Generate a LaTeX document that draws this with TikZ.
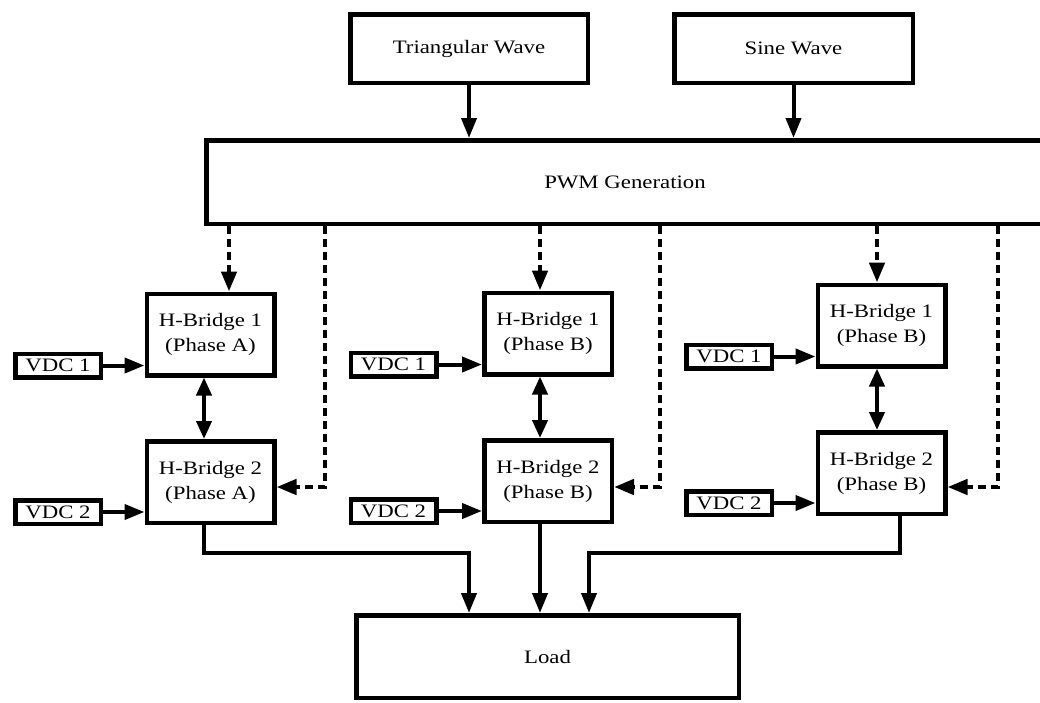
\documentclass[tikz,border=0pt]{standalone}
\usepackage{fontspec}
\setmainfont{Liberation Serif}[FakeStretch=1.2]
\usetikzlibrary{arrows.meta}

\begin{document}
\begin{tikzpicture}[x=1pt, y=-1pt, font=\fontsize{19}{25}\selectfont]
        \tikzstyle{box} = [rectangle, draw=black, line width=4.5pt, inner sep=0pt, align=center]
        \tikzstyle{hbox} = [box, minimum width=127.5pt, minimum height=81.5pt]
        \tikzstyle{vbox} = [box, minimum width=85.5pt, minimum height=23.5pt]
        \tikzstyle{arr} = [line width=4pt, -{Triangle[length=20pt, width=15pt]}]
        \tikzstyle{darr} = [arr, line width=4.5pt, dash pattern=on 8pt off 5pt]
        \tikzstyle{dbl} = [line width=4pt, {Triangle[length=18pt, width=15pt]}-{Triangle[length=18pt, width=15pt]}]

        \useasboundingbox (0,0) rectangle (1040,702);
        \clip (0,0) rectangle (1040,702);

        \node[box, minimum width=237.5pt, minimum height=68.5pt] (tri) at (469,48.5) {Triangular Wave};
        \node[box, minimum width=238.5pt, minimum height=68.5pt] (sine) at (793.5,48.5) {Sine Wave};
        \node[box, minimum width=837.5pt, minimum height=83.5pt] (pwm) at (625,182) {PWM Generation};
        \node[box, minimum width=382.5pt, minimum height=82.5pt] (load) at (547.5,656.5) {Load};

        \draw[arr] (tri.south) -- (tri.south |- pwm.north);
        \draw[arr] (sine.south) -- (sine.south |- pwm.north);

        \foreach \n/\hx/\hy/\vx/\ph/\da/\db/\dd in {a/210.5/334.5/58/A/229/325/204, b/548/333.5/393.5/B/540/660/540, c/881.5/325.5/729/B/877/998/877}{
            \node[hbox] (hb1\n) at (\hx,\hy) {H-Bridge 1\\(Phase \ph)};
            \node[hbox] (hb2\n) at (\hx,\hy+147.5) {H-Bridge 2\\(Phase \ph)};
            \node[vbox] (vdc1\n) at (\vx,\hy+31) {VDC 1};
            \node[vbox] (vdc2\n) at (\vx,\hy+177.5) {VDC 2};
            \coordinate (da\n) at (\da,0);
            \coordinate (db\n) at (\db,487);
            \coordinate (dd\n) at (\dd,0);

            \draw[arr] (vdc1\n.east) -- (vdc1\n.east -| hb1\n.west);
            \draw[arr] (vdc2\n.east) -- (vdc2\n.east -| hb2\n.west);
            \draw[darr] (pwm.south -| da\n) -- (hb1\n.north -| da\n);
            \draw[darr] (pwm.south -| db\n) |- (hb2\n.east |- db\n);
            \draw[dbl] (hb1\n.south -| dd\n) -- (hb2\n.north -| dd\n);
        }

        % outputs to the load
        \coordinate (la) at (469,553);
        \coordinate (lc) at (589,553);
        \coordinate (lr) at (900,0);
        \draw[arr] (hb2a.south -| dda) |- (la) -- (la |- load.north);
        \draw[arr] (hb2b.south -| ddb) -- (load.north -| ddb);
        \draw[arr] (hb2c.south -| lr) |- (lc) -- (lc |- load.north);
    \end{tikzpicture}
\end{document}
